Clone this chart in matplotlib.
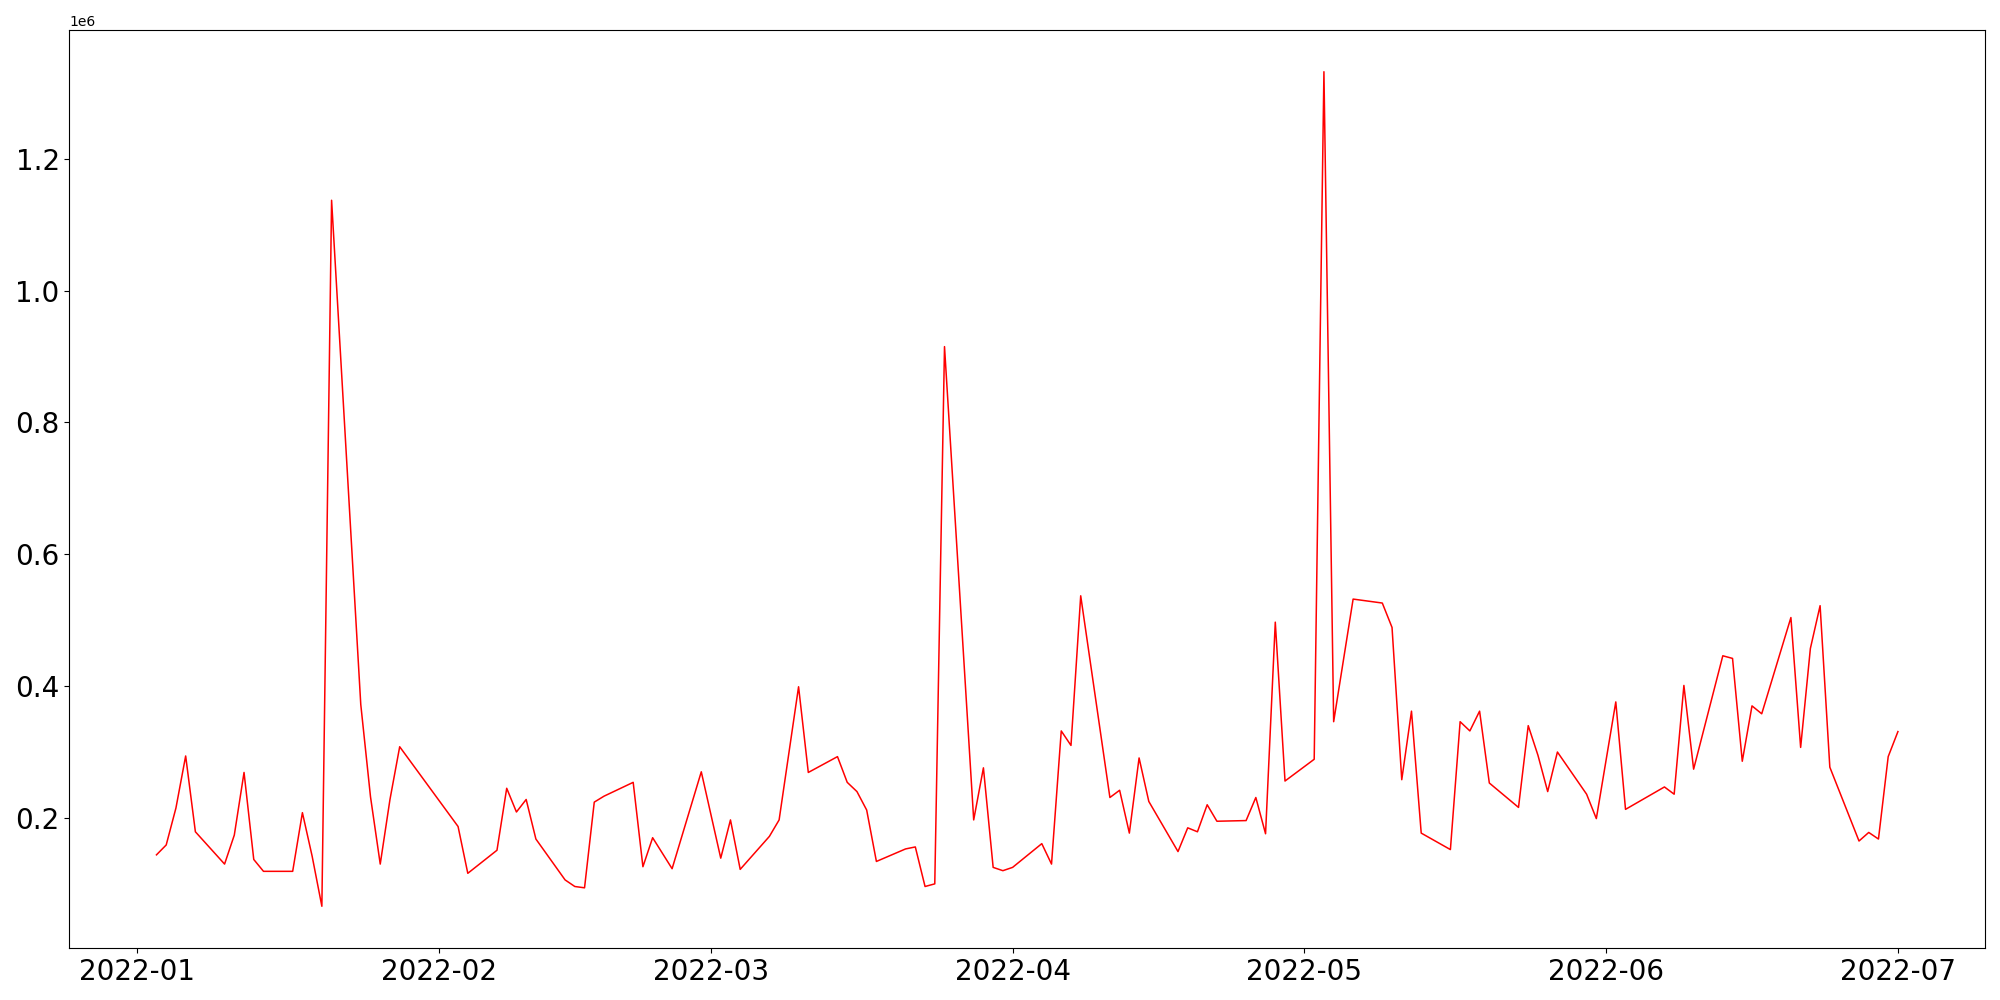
import pandas as pd
import matplotlib
matplotlib.use('Agg')
import matplotlib.pyplot as plt

# trading days
dates = [
    '2022-01-03', '2022-01-04', '2022-01-05', '2022-01-06', '2022-01-07',
    '2022-01-10', '2022-01-11', '2022-01-12', '2022-01-13', '2022-01-14',
    '2022-01-17', '2022-01-18', '2022-01-19', '2022-01-20', '2022-01-21',
    '2022-01-24', '2022-01-25', '2022-01-26', '2022-01-27', '2022-01-28',
    '2022-02-03', '2022-02-04',
    '2022-02-07', '2022-02-08', '2022-02-09', '2022-02-10', '2022-02-11',
    '2022-02-14', '2022-02-15', '2022-02-16', '2022-02-17', '2022-02-18',
    '2022-02-21', '2022-02-22', '2022-02-23', '2022-02-25',
    '2022-02-28', '2022-03-02', '2022-03-03', '2022-03-04',
    '2022-03-07', '2022-03-08', '2022-03-10', '2022-03-11',
    '2022-03-14', '2022-03-15', '2022-03-16', '2022-03-17', '2022-03-18',
    '2022-03-21', '2022-03-22', '2022-03-23', '2022-03-24', '2022-03-25',
    '2022-03-28', '2022-03-29', '2022-03-30', '2022-03-31', '2022-04-01',
    '2022-04-04', '2022-04-05', '2022-04-06', '2022-04-07', '2022-04-08',
    '2022-04-11', '2022-04-12', '2022-04-13', '2022-04-14', '2022-04-15',
    '2022-04-18', '2022-04-19', '2022-04-20', '2022-04-21', '2022-04-22',
    '2022-04-25', '2022-04-26', '2022-04-27', '2022-04-28', '2022-04-29',
    '2022-05-02', '2022-05-03', '2022-05-04', '2022-05-06',
    '2022-05-09', '2022-05-10', '2022-05-11', '2022-05-12', '2022-05-13',
    '2022-05-16', '2022-05-17', '2022-05-18', '2022-05-19', '2022-05-20',
    '2022-05-23', '2022-05-24', '2022-05-25', '2022-05-26', '2022-05-27',
    '2022-05-30', '2022-05-31', '2022-06-02', '2022-06-03',
    '2022-06-07', '2022-06-08', '2022-06-09', '2022-06-10',
    '2022-06-13', '2022-06-14', '2022-06-15', '2022-06-16', '2022-06-17',
    '2022-06-20', '2022-06-21', '2022-06-22', '2022-06-23', '2022-06-24',
    '2022-06-27', '2022-06-28', '2022-06-29', '2022-06-30', '2022-07-01',
]

# values in millions
volume_m = [
    0.144, 0.159, 0.215, 0.294, 0.179,
    0.130, 0.174, 0.269, 0.137, 0.119,
    0.119, 0.208, 0.142, 0.066, 1.137,
    0.372, 0.232, 0.130, 0.228, 0.308,
    0.187, 0.116,
    0.151, 0.245, 0.209, 0.228, 0.168,
    0.106, 0.096, 0.094, 0.224, 0.233,
    0.254, 0.126, 0.170, 0.123,
    0.270, 0.139, 0.197, 0.122,
    0.172, 0.197, 0.399, 0.269,
    0.293, 0.254, 0.240, 0.212, 0.134,
    0.153, 0.156, 0.096, 0.100, 0.915,
    0.197, 0.276, 0.125, 0.120, 0.125,
    0.161, 0.130, 0.332, 0.310, 0.537,
    0.231, 0.242, 0.177, 0.291, 0.225,
    0.149, 0.185, 0.179, 0.220, 0.195,
    0.196, 0.231, 0.176, 0.497, 0.256,
    0.289, 1.332, 0.346, 0.532,
    0.526, 0.489, 0.258, 0.362, 0.177,
    0.152, 0.346, 0.332, 0.362, 0.253,
    0.216, 0.340, 0.295, 0.240, 0.300,
    0.236, 0.199, 0.376, 0.213,
    0.247, 0.236, 0.401, 0.274,
    0.446, 0.442, 0.286, 0.370, 0.358,
    0.504, 0.307, 0.457, 0.522, 0.277,
    0.165, 0.178, 0.168, 0.293, 0.331,
]

data = pd.Series([v * 1e6 for v in volume_m], index=pd.to_datetime(dates))

fig = plt.figure(figsize=(20, 10), dpi=100)
ax = fig.add_axes([0.0347, 0.052, 0.9578, 0.918])
ax.plot(data.index, data.values, color='red', linewidth=1.1)

plt.xticks(fontsize=20)
plt.yticks(fontsize=20)

plt.savefig('out.png', dpi=100)
